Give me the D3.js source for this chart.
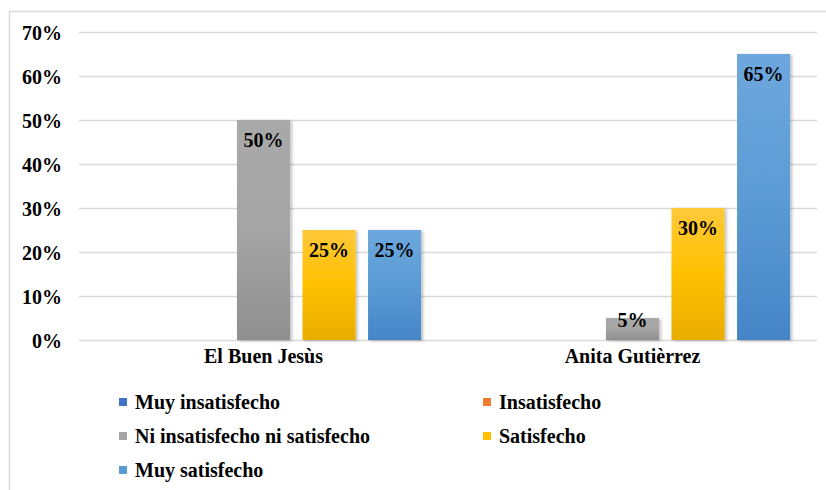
<!DOCTYPE html>
<html>
<head>
<meta charset="utf-8">
<script src="https://cdn.jsdelivr.net/npm/d3@7"></script>
</head>
<body style="margin:0;background:#fff">
<div id="chart"></div>
<script>
// data
var categories = ["El Buen Jesùs", "Anita Gutièrrez"];
var series = ["Muy insatisfecho", "Insatisfecho", "Ni insatisfecho ni satisfecho", "Satisfecho", "Muy satisfecho"];
var buenJesus = [0, 0, 50, 25, 25];
var anitaGutierrez = [0, 0, 5, 30, 65];
var yTicks = [0, 10, 20, 30, 40, 50, 60, 70];

var colors = ["#4472c4", "#ed7d31", "#a5a5a5", "#ffc000", "#5b9bd5"];
var gradTop = ["#5b85d0", "#f29150", "#a9a9a9", "#ffc93a", "#6ea7dd"];
var gradBot = ["#3a64b0", "#d86a22", "#8f8f8f", "#e8ad00", "#4585c7"];

var W = 826, H = 490;
var margin = {top: 32, right: 9, bottom: 150, left: 79},
    width = W - margin.left - margin.right,
    height = H - margin.top - margin.bottom;

// serif bold text, set straight on each text element
function serif(sel) {
  sel.attr("font-family", "Liberation Serif")
    .attr("font-weight", "bold")
    .attr("font-size", 20)
    .attr("fill", "#000");
}

var svg = d3.select("#chart")
  .append("svg")
    .attr("width", W)
    .attr("height", H);

var defs = svg.append("defs");
series.forEach(function(s, i) {
  var g = defs.append("linearGradient")
    .attr("id", "grad" + i)
    .attr("x1", 0).attr("y1", 0).attr("x2", 0).attr("y2", 1);
  g.append("stop").attr("offset", "0%").attr("stop-color", gradTop[i]);
  g.append("stop").attr("offset", "50%").attr("stop-color", colors[i]);
  g.append("stop").attr("offset", "100%").attr("stop-color", gradBot[i]);
});
var shadow = defs.append("filter").attr("id", "shadow")
  .attr("x", "-20%").attr("y", "-5%").attr("width", "150%").attr("height", "115%");
shadow.append("feDropShadow")
  .attr("dx", 2).attr("dy", 1).attr("stdDeviation", 1.5)
  .attr("flood-color", "#000").attr("flood-opacity", 0.25);

// outer frame
svg.append("rect")
  .attr("x", 9.5).attr("y", 11.5)
  .attr("width", W).attr("height", H)
  .attr("fill", "none")
  .attr("stroke", "#d9d9d9")
  .attr("stroke-width", 1.5);

var chart = svg.append("g")
  .attr("transform", "translate(" + margin.left + "," + margin.top + ")");

var y = d3.scaleLinear()
  .domain([0, 70])
  .range([height, 0]);

var x0 = d3.scaleBand()
  .domain(categories)
  .range([0, width])
  .padding(0);

var x1 = d3.scaleBand()
  .domain(series)
  .range([0, x0.bandwidth()])
  .paddingInner(0.19)
  .paddingOuter(0.41);

// gridlines
chart.append("g")
  .selectAll("line")
  .data(yTicks)
  .enter()
  .append("line")
    .attr("x1", 0)
    .attr("x2", width)
    .attr("y1", function(d) { return Math.round(y(d)) + 0.5; })
    .attr("y2", function(d) { return Math.round(y(d)) + 0.5; })
    .attr("stroke", "#d9d9d9")
    .attr("stroke-width", 1.5);

// y axis labels
var yAxis = chart.append("g")
  .attr("transform", "translate(-17,0)")
  .call(d3.axisLeft(y).tickValues(yTicks).tickSize(0).tickFormat(function(d) { return d + "%"; }));
yAxis.select(".domain").remove();
yAxis.selectAll("text")
  .call(serif)
  .attr("dy", "0.35em")
  .attr("x", 0);

// x axis labels
var xAxis = chart.append("g")
  .attr("transform", "translate(0," + height + ")")
  .call(d3.axisBottom(x0).tickSize(0));
xAxis.select(".domain").remove();
xAxis.selectAll("text")
  .call(serif)
  .attr("y", 16)
  .attr("dy", "0.35em");

var rows = [buenJesus, anitaGutierrez];
var groups = chart.selectAll(".cat")
  .data(categories)
  .enter()
  .append("g")
    .attr("class", "cat")
    .attr("transform", function(d) { return "translate(" + x0(d) + ",0)"; });

var bars = groups.selectAll(".bar")
  .data(function(d, i) {
    return series.map(function(s, j) { return {s: s, i: j, v: rows[i][j]}; });
  })
  .enter()
  .filter(function(d) { return d.v > 0; });

bars.append("rect")
  .attr("class", "bar")
  .attr("x", function(d) { return x1(d.s); })
  .attr("y", function(d) { return y(d.v); })
  .attr("width", x1.bandwidth())
  .attr("height", function(d) { return y(0) - y(d.v); })
  .attr("fill", function(d) { return "url(#grad" + d.i + ")"; })
  .attr("filter", "url(#shadow)");

bars.append("text")
  .call(serif)
  .attr("x", function(d) { return x1(d.s) + x1.bandwidth() / 2; })
  .attr("y", function(d) { return Math.min(y(d.v) + 20, y(0) - 20); })
  .attr("dy", "0.35em")
  .attr("text-anchor", "middle")
  .text(function(d) { return d.v + "%"; });

// legend
var legendPos = [[119, 402], [483, 402], [119, 436], [483, 436], [119, 470]];
var legend = svg.append("g")
  .selectAll("g")
  .data(series)
  .enter()
  .append("g")
    .attr("transform", function(d, i) { return "translate(" + legendPos[i][0] + "," + legendPos[i][1] + ")"; });
legend.append("rect")
  .attr("x", 0).attr("y", -4)
  .attr("width", 8).attr("height", 8)
  .attr("fill", function(d, i) { return colors[i]; });
legend.append("text")
  .call(serif)
  .attr("x", 16)
  .attr("dy", "0.35em")
  .text(function(d) { return d; });
</script>
</body>
</html>
